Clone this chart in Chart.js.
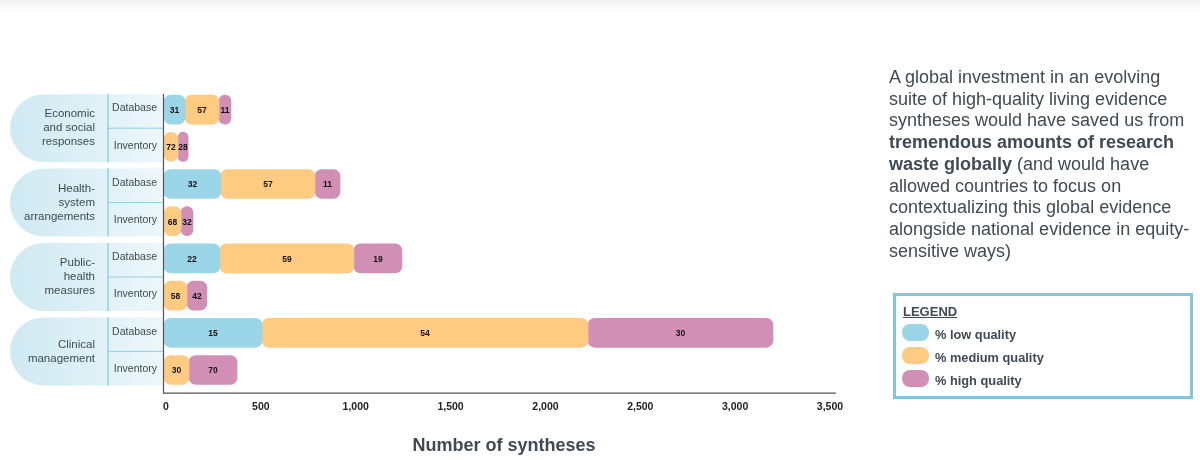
<!DOCTYPE html>
<html>
<head>
<meta charset="utf-8">
<script src="https://cdn.jsdelivr.net/npm/chart.js@4"></script>
<style>
  html, body { margin: 0; padding: 0; background: #fff; }
  body { width: 1200px; height: 474px; position: relative; overflow: hidden; font-family: "Liberation Sans", Arial, sans-serif; color: #3f4a54; }
  #topShade { position: absolute; left: 0; top: 0; width: 1200px; height: 12px; background: linear-gradient(#f0f0f0, #fff); }
  #skillsCanvas { position: absolute; left: 0; top: 0; }
  #note { position: absolute; left: 889px; top: 67px; font-size: 18px; line-height: 21.7px; white-space: nowrap; }
  #legendBox { position: absolute; left: 893px; top: 293px; width: 294px; height: 100px; border: 3px solid #7fc7dc; }
  #legendBox .head { position: absolute; left: 7px; top: 8px; font-size: 13px; font-weight: bold; text-decoration: underline; }
  #legendBox .row { position: absolute; left: 6px; font-size: 12.8px; font-weight: bold; height: 17px; line-height: 21px; white-space: nowrap; }
  #legendBox .swatch { display: inline-block; width: 27px; height: 17px; border-radius: 8px; vertical-align: top; margin-right: 6px; }
</style>
</head>
<body>
<div id="topShade"></div>
<canvas id="skillsCanvas" width="1200" height="474"></canvas>
<div id="note">
  A global investment in an evolving<br>
  suite of high-quality living evidence<br>
  syntheses would have saved us from<br>
  <b>tremendous amounts of research</b><br>
  <b>waste globally</b> (and would have<br>
  allowed countries to focus on<br>
  contextualizing this global evidence<br>
  alongside national evidence in equity-<br>
  sensitive ways)
</div>
<div id="legendBox"><div class="head">LEGEND</div></div>

<script>
const sources = ["Database", "Inventory", "Database", "Inventory", "Database", "Inventory", "Database", "Inventory"];
const groups = [
  ["Economic", "and social", "responses"],
  ["Health-", "system", "arrangements"],
  ["Public-", "health", "measures"],
  ["Clinical", "management"]
];
const seriesNames = ["% low quality", "% medium quality", "% high quality"];
const seriesColors = ["#9bd6e8", "#fecb80", "#d18fb5"];

// bar lengths, number of syntheses
const lowCounts = [111, null, 300, null, 295, null, 517, null];
const mediumCounts = [179, 74, 496, 90, 706, 121, 1718, 132];
const highCounts = [63, 53, 132, 63, 253, 105, 975, 253];

// percentages printed on the bars
const lowLabels = ["31", "", "32", "", "22", "", "15", ""];
const mediumLabels = ["57", "72", "57", "68", "59", "58", "54", "30"];
const highLabels = ["11", "28", "11", "32", "19", "42", "30", "70"];

const xTicks = [0, 500, 1000, 1500, 2000, 2500, 3000, 3500];
const xTitle = "Number of syntheses";

const textColor = "#3f4a54";
const fontName = '"Liberation Sans", Arial, sans-serif';

// html legend
const legendBox = document.getElementById("legendBox");
seriesNames.forEach(function (name, i) {
  const row = document.createElement("div");
  row.className = "row";
  row.style.top = (28 + i * 23) + "px";
  row.innerHTML = '<span class="swatch" style="background:' + seriesColors[i] + '"></span>' + name;
  legendBox.appendChild(row);
});

function roundedLeft(ctx, x, y, w, h, r) {
  ctx.beginPath();
  ctx.moveTo(x + w, y);
  ctx.lineTo(x + r, y);
  ctx.arc(x + r, y + r, r, -Math.PI / 2, Math.PI, true);
  ctx.arc(x + r, y + h - r, r, Math.PI, Math.PI / 2, true);
  ctx.lineTo(x + w, y + h);
  ctx.closePath();
}

// the pale rounded headers behind the y axis
const groupHeaders = {
  id: "groupHeaders",
  beforeDraw(chart) {
    const ctx = chart.ctx;
    const yScale = chart.scales.y;
    ctx.save();
    groups.forEach(function (lines, g) {
      const mid = (yScale.getPixelForValue(g * 2) + yScale.getPixelForValue(g * 2 + 1)) / 2;
      const top = mid - 34;
      const fill = ctx.createLinearGradient(10, 0, 164, 0);
      fill.addColorStop(0, "#cfe9f2");
      fill.addColorStop(1, "#edf7fb");
      ctx.fillStyle = fill;
      roundedLeft(ctx, 10, top, 154, 68, 34);
      ctx.fill();

      ctx.strokeStyle = "#8fd0e2";
      ctx.lineWidth = 1.5;
      ctx.beginPath();
      ctx.moveTo(108, top);
      ctx.lineTo(108, top + 68);
      ctx.stroke();
      ctx.lineWidth = 1;
      ctx.beginPath();
      ctx.moveTo(108, mid);
      ctx.lineTo(164, mid);
      ctx.stroke();

      ctx.fillStyle = textColor;
      ctx.font = "11.5px " + fontName;
      ctx.textAlign = "right";
      ctx.textBaseline = "middle";
      lines.forEach(function (line, i) {
        ctx.fillText(line, 95, mid + (i - (lines.length - 1) / 2) * 14);
      });
    });
    ctx.restore();
  }
};

// percentages on bars, axis lines and axis title
const barExtras = {
  id: "barExtras",
  afterDatasetsDraw(chart) {
    const ctx = chart.ctx;
    const area = chart.chartArea;
    const allLabels = [lowLabels, mediumLabels, highLabels];
    ctx.save();
    ctx.fillStyle = "#111";
    ctx.font = "bold 8.5px " + fontName;
    ctx.textAlign = "center";
    ctx.textBaseline = "middle";
    chart.data.datasets.forEach(function (ds, d) {
      chart.getDatasetMeta(d).data.forEach(function (bar, i) {
        if (!allLabels[d][i]) return;
        const p = bar.getCenterPoint();
        ctx.fillText(allLabels[d][i], p.x, p.y + 1);
      });
    });

    const axisY = area.bottom + 4.5;
    ctx.strokeStyle = "#555";
    ctx.lineWidth = 1.2;
    ctx.beginPath();
    ctx.moveTo(area.left - 0.5, 94);
    ctx.lineTo(area.left - 0.5, axisY);
    ctx.lineTo(836, axisY);
    ctx.stroke();

    ctx.fillStyle = textColor;
    ctx.font = "bold 18px " + fontName;
    ctx.fillText(xTitle, 504, 446);
    ctx.restore();
  }
};

new Chart(document.getElementById("skillsCanvas").getContext("2d"), {
  type: "bar",
  data: {
    labels: sources,
    datasets: [lowCounts, mediumCounts, highCounts].map(function (values, i) {
      return {
        label: seriesNames[i],
        data: values,
        backgroundColor: seriesColors[i],
        borderWidth: 0,
        // object form so every segment of the stack keeps its corners
        borderRadius: { topLeft: 7, topRight: 7, bottomLeft: 7, bottomRight: 7 },
        borderSkipped: false,
        barThickness: 29
      };
    })
  },
  options: {
    indexAxis: "y",
    responsive: false,
    animation: false,
    layout: { padding: { top: 91, right: 372, bottom: 0, left: 0 } },
    plugins: { legend: { display: false }, tooltip: { enabled: false } },
    scales: {
      x: {
        stacked: true,
        min: 0,
        max: 3500,
        border: { display: false },
        grid: { display: false, drawTicks: false },
        afterFit(scale) { scale.height = 85.4; },
        afterBuildTicks(scale) { scale.ticks = xTicks.map(function (v) { return { value: v }; }); },
        ticks: {
          padding: 12,
          labelOffset: 2,
          maxRotation: 0,
          autoSkip: false,
          color: "#222",
          font: { family: fontName, size: 10.5, weight: "bold" },
          callback: function (v) { return v.toLocaleString("en-US"); }
        }
      },
      y: {
        stacked: true,
        border: { display: false },
        grid: { display: false, drawTicks: false },
        afterFit(scale) { scale.width = 164; },
        ticks: {
          padding: 7,
          labelOffset: -1,
          color: textColor,
          font: { family: fontName, size: 10.5 }
        }
      }
    }
  },
  plugins: [groupHeaders, barExtras]
});
</script>
</body>
</html>
